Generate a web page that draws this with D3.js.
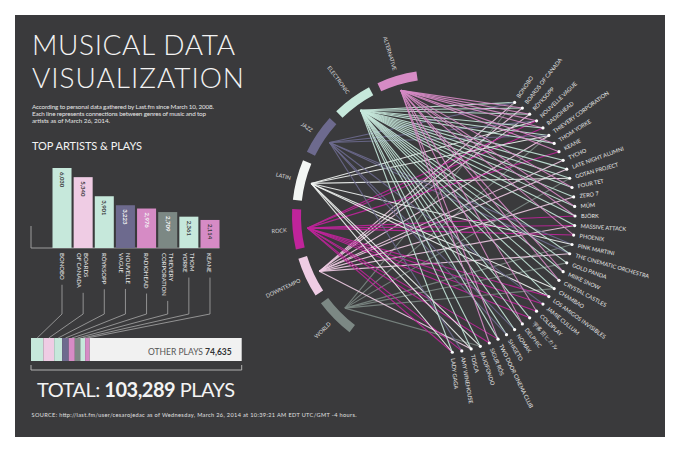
<!DOCTYPE html>
<html>
<head>
<meta charset="utf-8">
<script src="https://cdn.jsdelivr.net/npm/d3@7"></script>
<style>
  body { margin: 0; background: #fff; }
  text { font-family: Lato, "Open Sans", sans-serif; }
</style>
</head>
<body>
<div class="chart"></div>
<script>
// genres around the left side of the wheel
const genres = ["ALTERNATIVE", "ELECTRONIC", "JAZZ", "LATIN", "ROCK", "DOWNTEMPO", "WORLD"];

// artists around the right side, top to bottom
const artists = ["BONOBO", "BOARDS OF CANADA", "RÖYKSOPP", "NOUVELLE VAGUE", "RADIOHEAD",
  "THIEVERY CORPORATION", "THOM YORKE", "KEANE", "TYCHO", "LATE NIGHT ALUMNI", "GOTAN PROJECT",
  "FOUR TET", "ZERO 7", "MÚM", "BJÖRK", "MASSIVE ATTACK", "PHOENIX", "PINK MARTINI",
  "THE CINEMATIC ORCHESTRA", "GOLD PANDA", "MIIKE SNOW", "CRYSTAL CASTLES", "CHAMBAO",
  "LOS AMIGOS INVISIBLES", "JAMIE CULLUM", "COLDPLAY", "宇多田ヒカル", "DELPHIC", "NOMAK",
  "SHIGETO", "TWO DOOR CINEMA CLUB", "SIGUR RÓS", "BAJOFONDO", "TOSCA", "AMY WINEHOUSE", "LADY GAGA"];

// genres linked to each artist (same order as artists, first one = main genre)
const artistGenres = [
  ["ELECTRONIC", "DOWNTEMPO", "JAZZ", "WORLD"],
  ["DOWNTEMPO", "ELECTRONIC", "ALTERNATIVE"],
  ["ELECTRONIC", "DOWNTEMPO", "ALTERNATIVE"],
  ["JAZZ", "LATIN", "ALTERNATIVE", "ROCK"],
  ["ALTERNATIVE", "ROCK", "ELECTRONIC"],
  ["WORLD", "ELECTRONIC", "DOWNTEMPO", "LATIN", "JAZZ"],
  ["ELECTRONIC", "ALTERNATIVE"],
  ["ALTERNATIVE", "ROCK"],
  ["ELECTRONIC", "DOWNTEMPO"],
  ["ELECTRONIC", "DOWNTEMPO"],
  ["LATIN", "ELECTRONIC", "WORLD"],
  ["ELECTRONIC", "ALTERNATIVE"],
  ["DOWNTEMPO", "ELECTRONIC"],
  ["ELECTRONIC", "ALTERNATIVE"],
  ["ALTERNATIVE", "ELECTRONIC", "ROCK"],
  ["ELECTRONIC", "DOWNTEMPO", "ROCK"],
  ["ALTERNATIVE", "ROCK"],
  ["JAZZ", "LATIN", "WORLD"],
  ["JAZZ", "ELECTRONIC", "DOWNTEMPO"],
  ["ELECTRONIC", "WORLD"],
  ["ELECTRONIC", "ALTERNATIVE"],
  ["ELECTRONIC", "ALTERNATIVE"],
  ["LATIN", "WORLD", "ELECTRONIC"],
  ["LATIN", "ELECTRONIC", "ROCK"],
  ["JAZZ", "ROCK"],
  ["ROCK", "ALTERNATIVE"],
  ["ELECTRONIC", "ROCK"],
  ["ELECTRONIC", "ALTERNATIVE"],
  ["JAZZ", "ELECTRONIC"],
  ["ELECTRONIC", "JAZZ"],
  ["ALTERNATIVE", "ROCK", "ELECTRONIC"],
  ["ALTERNATIVE", "ROCK"],
  ["LATIN", "ELECTRONIC", "WORLD"],
  ["DOWNTEMPO", "ELECTRONIC", "LATIN"],
  ["JAZZ", "ROCK"],
  ["ROCK", "ELECTRONIC", "LATIN"]
];

// top artists bar chart
const topArtists = ["BONOBO", "BOARDS OF CANADA", "RÖYKSOPP", "NOUVELLE VAGUE", "RADIOHEAD",
  "THIEVERY CORPORATION", "THOM YORKE", "KEANE"];
const topLabels = [["BONOBO"], ["BOARDS", "OF CANADA"], ["RÖYKSOPP"], ["NOUVELLE", "VAGUE"],
  ["RADIOHEAD"], ["THIEVERY", "CORPORATION"], ["THOM", "YORKE"], ["KEANE"]];
const topPlays = [6030, 5340, 3901, 3223, 2976, 2709, 2361, 2114];
const otherPlays = 74635;
const totalPlays = 103289;

const genreColor = d3.scaleOrdinal()
  .domain(genres)
  .range(["#d68bc5", "#c6e8db", "#6d6a8e", "#f3f6f4", "#c0249b", "#efcce4", "#7c8884"]);

const fmt = d3.format(",");

const svg = d3.select(".chart")
  .append("svg")
  .attr("width", 680)
  .attr("height", 451)
  .attr("viewBox", "0 0 680 451");

svg.append("rect")
  .attr("x", 15).attr("y", 15)
  .attr("width", 650).attr("height", 422)
  .attr("fill", "#3a3a3c");

// ---------- titles ----------
const light = "#f3f3f3";

svg.append("text").text("MUSICAL DATA")
  .attr("x", 32).attr("y", 54.5)
  .attr("font-size", 28).attr("font-weight", 300)
  .attr("textLength", 203).attr("fill", light);

svg.append("text").text("VISUALIZATION")
  .attr("x", 32).attr("y", 88)
  .attr("font-size", 28).attr("font-weight", 300)
  .attr("textLength", 212).attr("fill", light);

const intro = [
  ["According to personal data gathered by Last.fm since March 10, 2008.", 182],
  ["Each line represents connections between genres of music and top", 174],
  ["artists as of March 26, 2014.", 78]
];
svg.selectAll("text.intro")
  .data(intro)
  .join("text")
  .attr("class", "intro")
  .text(d => d[0])
  .attr("x", 32)
  .attr("y", (d, i) => 108.5 + i * 7.3)
  .attr("font-size", 6.3)
  .attr("textLength", d => d[1])
  .attr("fill", "#e6e6e6");

svg.append("text").text("TOP ARTISTS & PLAYS")
  .attr("x", 32).attr("y", 149.5)
  .attr("font-size", 11)
  .attr("textLength", 110).attr("fill", light);

// ---------- bar chart ----------
const xBar = d3.scaleBand()
  .domain(topArtists)
  .range([52.5, 219.5])
  .paddingInner(0.1);

const yBar = d3.scaleLinear()
  .domain([0, d3.max(topPlays)])
  .range([248, 168]);

const mainGenre = name => artistGenres[artists.indexOf(name)][0];

svg.append("path")
  .attr("d", "M31,226V248H219.5")
  .attr("fill", "none")
  .attr("stroke", "#9c9c9c")
  .attr("stroke-width", 1);

const bars = svg.selectAll("g.bar")
  .data(topArtists)
  .join("g")
  .attr("class", "bar");

bars.append("rect")
  .attr("x", d => xBar(d))
  .attr("y", (d, i) => yBar(topPlays[i]))
  .attr("width", xBar.bandwidth())
  .attr("height", (d, i) => 248 - yBar(topPlays[i]))
  .attr("fill", d => genreColor(mainGenre(d)));

const darkBars = ["JAZZ", "WORLD", "ALTERNATIVE"];
bars.append("text")
  .text((d, i) => fmt(topPlays[i]))
  .attr("transform", (d, i) => `translate(${xBar(d) + xBar.bandwidth() / 2 - 2},${yBar(topPlays[i]) + 4}) rotate(90)`)
  .attr("font-size", 6)
  .attr("font-weight", 700)
  .attr("fill", (d, i) => darkBars.includes(mainGenre(d)) && d !== "KEANE" ? "#f5f5f5" : "#3a3a3c");

const nameLabels = bars.append("text")
  .attr("transform", (d, i) => {
    const cx = xBar(d) + xBar.bandwidth() / 2;
    const bx = topLabels[i].length > 1 ? cx + 1 : cx - 2.5;
    return `translate(${bx},253) rotate(90)`;
  })
  .attr("font-size", 6)
  .attr("fill", "#e8e8e8");

nameLabels.selectAll("tspan")
  .data((d, i) => topLabels[i])
  .join("tspan")
  .attr("x", 0)
  .attr("dy", (d, j) => j === 0 ? 0 : 7)
  .text(d => d);

// stacked total bar
const xTotal = d3.scaleLinear()
  .domain([0, totalPlays])
  .range([31, 241.7]);

let acc = 0;
const segments = topArtists.map((d, i) => {
  const s = { name: d, start: acc, end: acc + topPlays[i] };
  acc += topPlays[i];
  return s;
});

svg.append("rect")
  .attr("x", xTotal(acc))
  .attr("y", 338)
  .attr("width", xTotal(acc + otherPlays) - xTotal(acc))
  .attr("height", 23)
  .attr("fill", "#f1f1f1");

svg.selectAll("rect.seg")
  .data(segments)
  .join("rect")
  .attr("class", "seg")
  .attr("x", d => xTotal(d.start))
  .attr("y", 338)
  .attr("width", d => xTotal(d.end) - xTotal(d.start))
  .attr("height", 23)
  .attr("fill", d => genreColor(mainGenre(d.name)));

// leader lines from bar labels down to the stacked bar
nameLabels.each(function (d, i) {
  let len = 0;
  d3.select(this).selectAll("tspan").each(function () {
    len = Math.max(len, this.getComputedTextLength());
  });
  const cx = xBar(d) + xBar.bandwidth() / 2;
  const seg = segments[i];
  const sx = xTotal((seg.start + seg.end) / 2);
  svg.append("path")
    .attr("d", `M${cx},${253 + len + 5}V314L${sx},338`)
    .attr("fill", "none")
    .attr("stroke", "#a8a8a8")
    .attr("stroke-width", 0.8);
});

const other = svg.append("text")
  .attr("x", 231.7).attr("y", 354.5)
  .attr("text-anchor", "end")
  .attr("font-size", 8.5);
other.append("tspan").text("OTHER PLAYS ").attr("fill", "#555");
other.append("tspan").text(fmt(otherPlays)).attr("font-weight", 700).attr("fill", "#333");

svg.append("path")
  .attr("d", "M31,365V370H241.7V365")
  .attr("fill", "none")
  .attr("stroke", "#b0b0b0")
  .attr("stroke-width", 1);

const total = svg.append("text")
  .attr("x", 37).attr("y", 396.5)
  .attr("font-size", 20)
  .attr("textLength", 198)
  .attr("fill", light);
total.append("tspan").text("TOTAL: ");
total.append("tspan").text(fmt(totalPlays)).attr("font-weight", 700);
total.append("tspan").text(" PLAYS");

svg.append("text")
  .text("SOURCE: http://last.fm/user/cesarojedac as of Wednesday, March 26, 2014 at 10:39:21 AM EDT UTC/GMT -4 hours.")
  .attr("x", 31.5).attr("y", 417)
  .attr("font-size", 5.6)
  .attr("textLength", 325)
  .attr("fill", "#e0e0e0");

// ---------- genre / artist wheel ----------
const cx = 438, cy = 216;
const rad = Math.PI / 180;

const genreAngle = d3.scaleLinear()
  .domain([0, genres.length - 1])
  .range([-106.5, -224.7]);

const artistAngle = d3.scalePoint()
  .domain(artists)
  .range([-56, 84]);

const gAng = g => genreAngle(genres.indexOf(g));
const pt = (deg, r) => [cx + r * Math.cos(deg * rad), cy + r * Math.sin(deg * rad)];

const links = [];
artists.forEach((a, i) => {
  artistGenres[i].forEach(g => links.push({ artist: a, genre: g }));
});

const wheel = svg.append("g");

wheel.selectAll("line.link")
  .data(links)
  .join("line")
  .attr("class", "link")
  .attr("x1", d => pt(gAng(d.genre), 131)[0])
  .attr("y1", d => pt(gAng(d.genre), 131)[1])
  .attr("x2", d => pt(artistAngle(d.artist), 137)[0])
  .attr("y2", d => pt(artistAngle(d.artist), 137)[1])
  .attr("stroke", d => genreColor(d.genre))
  .attr("stroke-width", 1.1)
  .attr("stroke-opacity", 0.9);

const arc = d3.arc()
  .innerRadius(137)
  .outerRadius(146);

wheel.selectAll("path.genre")
  .data(genres)
  .join("path")
  .attr("class", "genre")
  .attr("transform", `translate(${cx},${cy})`)
  .attr("d", g => arc({
    startAngle: (gAng(g) + 90 - 8) * rad,
    endAngle: (gAng(g) + 90 + 8) * rad
  }))
  .attr("fill", g => genreColor(g));

wheel.selectAll("text.genre")
  .data(genres)
  .join("text")
  .attr("class", "genre")
  .text(g => g)
  .attr("transform", g => {
    const p = pt(gAng(g), 152);
    return `translate(${p[0]},${p[1]}) rotate(${gAng(g) + 180})`;
  })
  .attr("text-anchor", "end")
  .attr("dy", "0.35em")
  .attr("font-size", 5.5)
  .attr("fill", "#dcdcdc");

wheel.selectAll("circle.artist")
  .data(artists)
  .join("circle")
  .attr("class", "artist")
  .attr("cx", a => pt(artistAngle(a), 137)[0])
  .attr("cy", a => pt(artistAngle(a), 137)[1])
  .attr("r", 1.6)
  .attr("fill", "#fff");

wheel.selectAll("text.artist")
  .data(artists)
  .join("text")
  .attr("class", "artist")
  .text(a => a)
  .attr("transform", a => {
    const p = pt(artistAngle(a), 143);
    return `translate(${p[0]},${p[1]}) rotate(${artistAngle(a)})`;
  })
  .attr("dy", "0.35em")
  .attr("font-size", 5.6)
  .attr("font-family", a => /[\u3040-\u30ff\u4e00-\u9fff]/.test(a) ? "'Noto Sans CJK JP', sans-serif" : null)
  .attr("fill", "#e6e6e6");
</script>
</body>
</html>
